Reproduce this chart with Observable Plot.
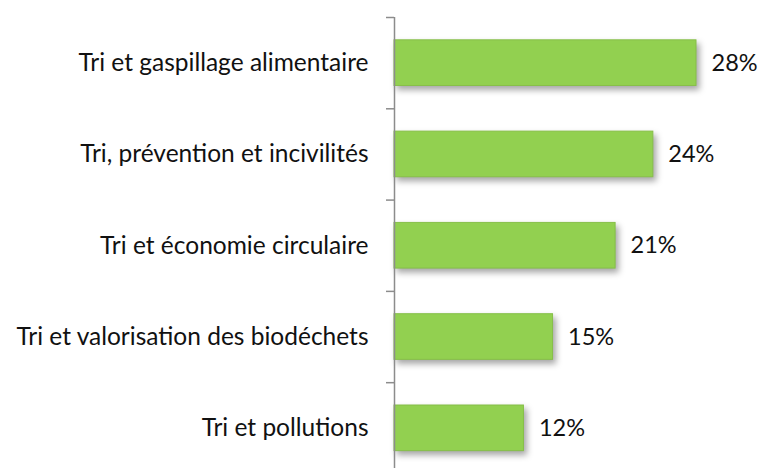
<!DOCTYPE html>
<html><head><meta charset="utf-8">
<script src="https://cdn.jsdelivr.net/npm/d3@7"></script>
<script src="https://cdn.jsdelivr.net/npm/@observablehq/plot@0.6"></script>
<style>
body{margin:0;background:#fff;}
.bars rect{filter:drop-shadow(3px 4px 3px rgba(0,0,0,0.35));}
</style>
</head><body><div id="chart"></div>
<script>
const categories = ["Tri et gaspillage alimentaire","Tri, prévention et incivilités","Tri et économie circulaire","Tri et valorisation des biodéchets","Tri et pollutions"];
const values = [28, 24, 20.5, 14.7, 12];
const valueLabels = ["28%","24%","21%","15%","12%"];

const data = categories.map((c, i) => ({cat: c, i, v: values[i], label: valueLabels[i]}));
const boundaries = d3.range(-0.5, categories.length, 1);

const plot = Plot.plot({
  width: 758, height: 468,
  marginLeft: 394, marginRight: 62, marginTop: 17, marginBottom: 0,
  style: {fontFamily: "Lato, sans-serif", fontSize: "23px", color: "#000", background: "#fff"},
  x: {type: "linear", domain: [0, 28], axis: null},
  y: {type: "linear", domain: [-0.5, 4.44], reverse: true, axis: null},
  marks: [
    Plot.rectX(data, {x1: 0, x2: "v", y1: d => d.i - 0.25, y2: d => d.i + 0.25, fill: "#92D050", stroke: "#86BF48", strokeWidth: 1, className: "bars"}),
    Plot.ruleX([0], {stroke: "#8c8c8c", strokeWidth: 1.5}),
    Plot.axisY({ticks: boundaries, tickSize: 8, tickFormat: () => "", label: null, stroke: "#8c8c8c", strokeWidth: 1.5, anchor: "left"}),
    Plot.text(data, {x: 0, y: "i", text: "cat", textAnchor: "end", dx: -26, fill: "#111", fontSize: 24.5}),
    Plot.text(data, {x: "v", y: "i", text: "label", textAnchor: "start", dx: 15, fill: "#111", fontSize: 23.5})
  ]
});
document.getElementById("chart").appendChild(plot);
</script>
</body></html>
